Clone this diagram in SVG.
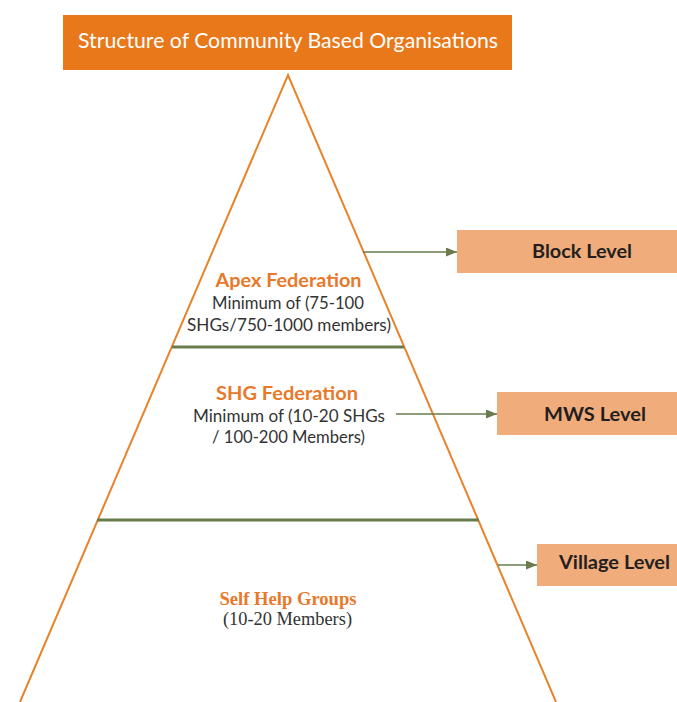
<svg xmlns="http://www.w3.org/2000/svg" width="677" height="702" viewBox="0 0 677 702">
<style>
.tri{fill:none;stroke:#E8832A;stroke-width:2}
.sep{stroke:#6A7B4C;stroke-width:3}
.conn{stroke:#6A7B4C;stroke-width:1.6;fill:none}
.lvl{fill:#F1AC7B}
.lt{font-family:Lato,"Open Sans",sans-serif;font-weight:bold;font-size:18.5px;fill:#231F20;text-anchor:middle}
.h{font-family:Lato,"Open Sans",sans-serif;font-weight:bold;font-size:18px;fill:#E8782A;text-anchor:middle}
.b{font-family:Lato,"Open Sans",sans-serif;font-size:17px;fill:#333;text-anchor:middle}
.sh{font-family:"Liberation Serif",serif;font-weight:bold;font-size:18.5px;fill:#E8782A;text-anchor:middle}
.sb{font-family:"Liberation Serif",serif;font-size:18.5px;fill:#333;text-anchor:middle}
</style>
<defs>
<marker id="ah" viewBox="0 0 11 9" refX="11" refY="4.5" markerWidth="11" markerHeight="9" orient="auto" markerUnits="userSpaceOnUse">
<path d="M0,0 L11,4.5 L0,9 z" fill="#6A7B4C"/>
</marker>
</defs>
<rect width="677" height="702" fill="#fff"/>
<g id="title">
<rect x="63" y="15" width="449" height="55" fill="#E8781A"/>
<text x="288" y="48" font-family="Lato,'Open Sans',sans-serif" font-size="21" fill="#fff" text-anchor="middle" textLength="420" lengthAdjust="spacingAndGlyphs">Structure of Community Based Organisations</text>
</g>
<g id="pyramid">
<polyline class="tri" points="20,702 288,75 556,702"/>
<line class="sep" x1="172" y1="347" x2="404" y2="347"/>
<line class="sep" x1="97" y1="520" x2="479" y2="520"/>
</g>
<g id="apex">
<text class="h" x="288.5" y="287" textLength="146" lengthAdjust="spacingAndGlyphs">Apex Federation</text>
<text class="b" x="288" y="309" textLength="152" lengthAdjust="spacingAndGlyphs">Minimum of (75-100</text>
<text class="b" x="289" y="331" textLength="204" lengthAdjust="spacingAndGlyphs">SHGs/750-1000 members)</text>
</g>
<g id="shgfed">
<text class="h" x="287" y="400" textLength="142" lengthAdjust="spacingAndGlyphs">SHG Federation</text>
<text class="b" x="289" y="422" textLength="192" lengthAdjust="spacingAndGlyphs">Minimum of (10-20 SHGs</text>
<text class="b" x="288.5" y="443" textLength="153" lengthAdjust="spacingAndGlyphs">/ 100-200 Members)</text>
</g>
<g id="shg">
<text class="sh" x="288" y="605" textLength="137" lengthAdjust="spacingAndGlyphs">Self Help Groups</text>
<text class="sb" x="287.5" y="625" textLength="129" lengthAdjust="spacingAndGlyphs">(10-20 Members)</text>
</g>
<g id="block">
<rect class="lvl" x="457" y="230" width="220" height="43"/>
<text class="lt" x="582" y="258" textLength="100" lengthAdjust="spacingAndGlyphs">Block Level</text>
</g>
<g id="mws">
<rect class="lvl" x="497" y="392" width="180" height="43"/>
<text class="lt" x="595" y="421" textLength="102" lengthAdjust="spacingAndGlyphs">MWS Level</text>
</g>
<g id="village">
<rect class="lvl" x="537" y="544" width="140" height="42"/>
<text class="lt" x="614.5" y="569" textLength="111" lengthAdjust="spacingAndGlyphs">Village Level</text>
</g>
<g id="connectors">
<line class="conn" x1="363" y1="252" x2="457" y2="252" marker-end="url(#ah)"/>
<line class="conn" x1="396" y1="414" x2="497" y2="414" marker-end="url(#ah)"/>
<line class="conn" x1="498" y1="565" x2="537" y2="565" marker-end="url(#ah)"/>
</g>
</svg>
